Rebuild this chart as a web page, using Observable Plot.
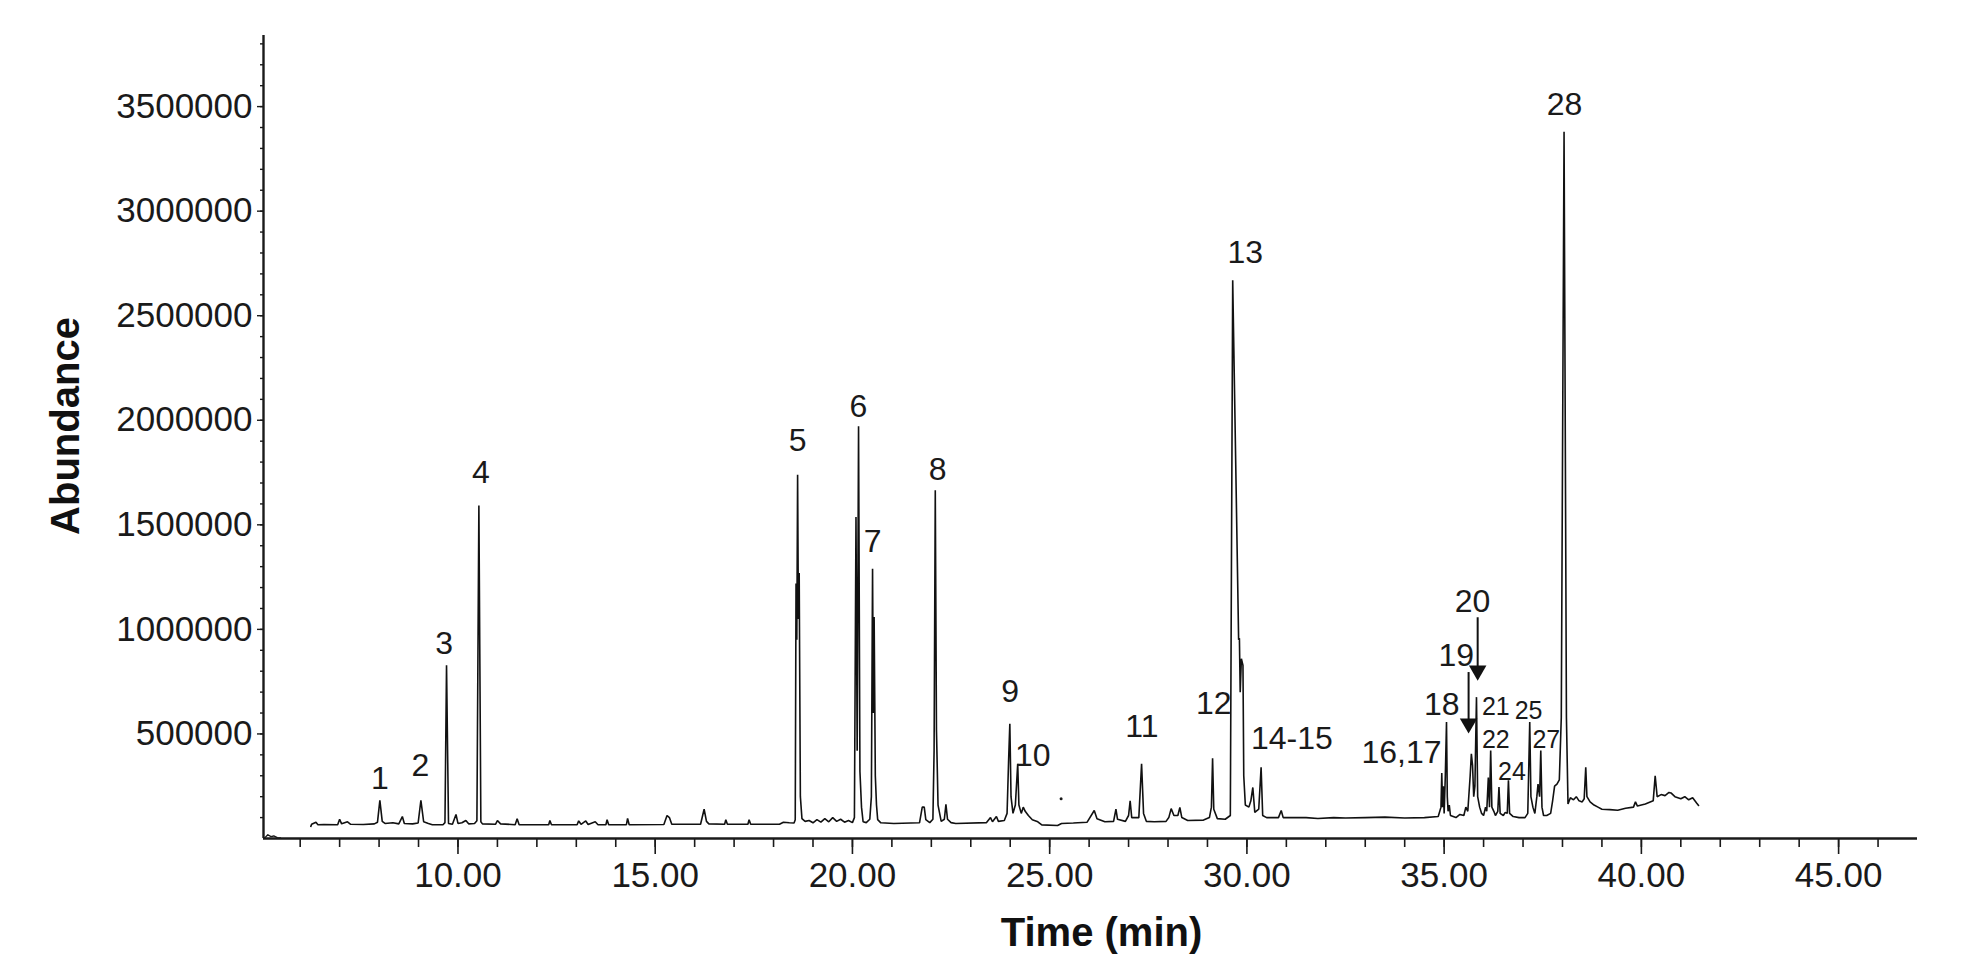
<!DOCTYPE html>
<html><head><meta charset="utf-8">
<script src="https://cdn.jsdelivr.net/npm/d3@7"></script>
<script src="https://cdn.jsdelivr.net/npm/@observablehq/plot@0.6"></script>
<style>body{margin:0;background:#fff}#chart{width:1966px;height:972px}</style>
</head><body><div id="chart"></div>
<script>
// ---- axes ----
const xDomain = [5.07, 47.0];
const yDomain = [0, 3840000];
const xMajorTicks = [10, 15, 20, 25, 30, 35, 40, 45];
const xMinorTicks = [6,7,8,9,10,11,12,13,14,15,16,17,18,19,20,21,22,23,24,25,26,27,28,29,30,31,32,33,34,35,36,37,38,39,40,41,42,43,44,45,46];
const yMajorTicks = [500000, 1000000, 1500000, 2000000, 2500000, 3000000, 3500000];
const yMinorTicks = [100000,200000,300000,400000,500000,600000,700000,800000,900000,1000000,1100000,1200000,1300000,1400000,1500000,1600000,1700000,1800000,1900000,2000000,2100000,2200000,2300000,2400000,2500000,2600000,2700000,2800000,2900000,3000000,3100000,3200000,3300000,3400000,3500000,3600000,3700000,3800000];

// ---- chromatogram trace (time in min, abundance) ----
const traceTime = [6.27,6.29,6.40,6.45,6.60,6.95,7.00,7.05,7.20,7.28,7.60,7.88,7.96,8.02,8.08,8.15,8.35,8.50,8.59,8.64,8.85,8.99,9.06,9.13,9.25,9.35,9.62,9.67,9.71,9.76,9.86,9.95,10.00,10.10,10.20,10.27,10.42,10.48,10.53,10.58,10.62,10.95,11.00,11.08,11.45,11.50,11.55,12.30,12.33,12.37,13.02,13.06,13.12,13.24,13.30,13.48,13.55,13.75,13.78,13.82,14.27,14.30,14.34,15.22,15.30,15.36,15.42,16.15,16.24,16.30,16.36,16.76,16.79,16.83,17.35,17.38,17.42,18.15,18.25,18.40,18.52,18.55,18.57,18.59,18.61,18.63,18.65,18.68,18.72,18.80,18.90,19.00,19.10,19.20,19.30,19.40,19.50,19.60,19.70,19.80,19.90,20.00,20.05,20.09,20.12,20.155,20.19,20.23,20.27,20.35,20.44,20.48,20.51,20.53,20.55,20.58,20.61,20.64,20.72,21.05,21.70,21.77,21.82,21.86,21.96,22.04,22.07,22.10,22.13,22.17,22.25,22.33,22.37,22.41,22.50,22.62,23.40,23.50,23.55,23.65,23.70,23.85,23.92,23.96,23.99,24.02,24.07,24.13,24.19,24.22,24.28,24.33,24.38,24.46,24.56,24.70,24.80,25.20,25.30,25.60,25.95,26.13,26.20,26.40,26.62,26.68,26.72,26.92,27.00,27.04,27.08,27.26,27.33,27.38,27.45,27.65,27.95,28.02,28.08,28.15,28.25,28.30,28.35,28.50,28.90,29.05,29.10,29.13,29.16,29.25,29.45,29.58,29.64,29.79,29.81,29.83,29.86,29.90,29.92,29.96,30.05,30.10,30.15,30.20,30.30,30.36,30.40,30.50,30.80,30.87,30.92,31.50,31.80,32.20,32.50,33.00,33.50,34.00,34.50,34.85,34.92,34.94,34.96,34.98,35.00,35.03,35.06,35.08,35.10,35.13,35.16,35.30,35.40,35.50,35.55,35.60,35.66,35.69,35.72,35.75,35.78,35.82,35.85,35.90,35.95,36.00,36.05,36.08,36.12,36.15,36.18,36.21,36.26,36.30,36.36,36.39,36.42,36.50,36.55,36.60,36.63,36.66,36.75,36.90,37.05,37.12,37.17,37.20,37.25,37.30,37.35,37.38,37.42,37.45,37.48,37.52,37.60,37.70,37.75,37.80,37.86,37.92,37.97,38.04,38.10,38.14,38.20,38.28,38.35,38.42,38.50,38.55,38.59,38.62,38.70,38.80,38.90,39.00,39.20,39.40,39.60,39.80,39.85,39.90,40.10,40.30,40.35,40.40,40.50,40.60,40.70,40.75,40.85,41.00,41.10,41.20,41.30,41.40,41.45];
const traceAbundance = [58000,68000,78000,66000,67000,66000,92000,70000,80000,68000,67000,70000,78000,182000,82000,72000,75000,70000,105000,72000,70000,74000,182000,80000,72000,66000,66000,76000,828000,72000,68000,115000,72000,75000,86000,70000,72000,85000,1593000,80000,70000,68000,86000,70000,66000,94000,66000,66000,86000,66000,66000,84000,68000,84000,67000,80000,66000,66000,90000,66000,66000,96000,66000,67000,110000,100000,68000,68000,140000,82000,70000,68000,90000,68000,68000,90000,68000,68000,78000,75000,74000,90000,1220000,950000,1740000,1050000,1270000,200000,95000,82000,86000,75000,90000,78000,95000,80000,100000,82000,92000,78000,86000,76000,100000,1537000,420000,1971000,320000,150000,80000,76000,92000,200000,1290000,600000,1059000,300000,160000,90000,75000,72000,75000,150000,150000,90000,76000,92000,420000,1665000,520000,160000,82000,92000,163000,92000,76000,72000,76000,100000,80000,105000,82000,86000,120000,380000,549000,200000,120000,160000,357000,160000,120000,150000,130000,110000,90000,80000,65000,62000,72000,74000,78000,134000,95000,80000,82000,140000,92000,82000,110000,180000,100000,100000,357000,120000,82000,80000,82000,100000,143000,110000,110000,149000,100000,86000,88000,100000,150000,384000,140000,95000,92000,110000,2670000,950000,958000,700000,860000,828000,300000,160000,150000,180000,244000,125000,140000,340000,110000,100000,100000,134000,100000,100000,96000,100000,98000,100000,102000,98000,100000,105000,150000,313000,150000,250000,120000,300000,557000,200000,130000,160000,110000,100000,115000,110000,150000,130000,300000,405000,350000,200000,250000,676000,200000,150000,120000,110000,150000,130000,292000,150000,421000,150000,130000,110000,130000,246000,120000,110000,125000,120000,278000,120000,105000,100000,100000,120000,557000,200000,150000,120000,200000,260000,200000,421000,150000,110000,110000,120000,180000,250000,260000,280000,580000,3380000,580000,165000,195000,185000,200000,180000,175000,190000,341000,200000,175000,160000,150000,140000,138000,135000,145000,150000,175000,155000,165000,180000,300000,200000,210000,205000,220000,218000,200000,190000,200000,185000,195000,170000,158000];

// small trace at the origin corner
const cornerTime = [5.10, 5.18, 5.26, 5.33, 5.42, 5.50];
const cornerAbundance = [3000, 18000, 9000, 12000, 4000, 3000];

// isolated dot
const dotTime = [25.29];
const dotAbundance = [190000];

// ---- peak labels ----
const peakLabels = ["1","2","3","4","5","6","7","8","9","10","11","12","13","14-15","16,17","18","19","20","28"];
const peakLabelTime = [8.02,9.05,9.65,10.58,18.61,20.15,20.51,22.16,24.0,24.57,27.34,29.16,29.96,31.14,33.92,34.94,35.31,35.72,38.05];
const peakLabelAbundance = [287000,349000,933000,1750000,1904000,2064000,1420000,1761000,700000,397000,536000,646000,2800000,475000,412000,641000,876000,1131000,3507000];
const smallLabels = ["21","22","24","25","27"];
const smallLabelTime = [36.31,36.31,36.72,37.14,37.59];
const smallLabelAbundance = [628000,469000,317000,608000,472000];

// ---- arrows (peaks 19 and 20) ----
const arrowTime = [35.62, 35.85];
const arrowFrom = [796000, 1058000];
const arrowHead = [550000, 803000];

const trace = traceTime.map((t, i) => ({t, v: traceAbundance[i]}));
const corner = cornerTime.map((t, i) => ({t, v: cornerAbundance[i]}));
const lone = dotTime.map((t, i) => ({t, v: dotAbundance[i]}));
const labels = peakLabels.map((s, i) => ({s, t: peakLabelTime[i], v: peakLabelAbundance[i]}));
const small = smallLabels.map((s, i) => ({s, t: smallLabelTime[i], v: smallLabelAbundance[i]}));
const arrows = arrowTime.map((t, i) => ({t, v1: arrowFrom[i], v2: arrowHead[i]}));

const ink = "#1a1a1a";
const chart = Plot.plot({
  width: 1966, height: 972,
  marginLeft: 263, marginRight: 49, marginTop: 35, marginBottom: 134,
  style: {fontFamily: "'Liberation Sans', Arial, sans-serif", color: ink, background: "#fff"},
  x: {domain: xDomain},
  y: {domain: yDomain},
  marks: [
    Plot.axisX(xMinorTicks, {tickSize: 9, tickFormat: () => "", label: null, strokeWidth: 1.6}),
    Plot.axisX(xMajorTicks, {tickSize: 16, tickPadding: 8, fontSize: 35, tickFormat: d3.format(".2f"), label: null, strokeWidth: 1.6}),
    Plot.axisY(yMinorTicks, {tickSize: 3, tickFormat: () => "", label: null, strokeWidth: 1.4}),
    Plot.axisY(yMajorTicks, {tickSize: 6, tickPadding: 5, fontSize: 35, tickFormat: d3.format("d"), label: null, strokeWidth: 1.4}),
    Plot.ruleX([xDomain[0]], {stroke: ink, strokeWidth: 2.4}),
    Plot.ruleY([yDomain[0]], {stroke: ink, strokeWidth: 2.4}),
    Plot.line(corner, {x: "t", y: "v", stroke: ink, strokeWidth: 1.4}),
    Plot.line(trace, {x: "t", y: "v", stroke: "#111", strokeWidth: 1.6, strokeLinejoin: "miter"}),
    Plot.dot(lone, {x: "t", y: "v", r: 1.5, fill: ink}),
    Plot.link(arrows, {x1: "t", y1: "v1", x2: "t", y2: "v2", stroke: "#111", strokeWidth: 2}),
    Plot.dot(arrows, {x: "t", y: "v2", symbol: "triangle", r: 6.5, fill: "#111", rotate: 180}),
    Plot.text(labels, {x: "t", y: "v", text: "s", fontSize: 32, fill: ink}),
    Plot.text(small, {x: "t", y: "v", text: "s", fontSize: 25, fill: ink}),
    Plot.text(["Abundance"], {frameAnchor: "left", textAnchor: "middle", lineAnchor: "middle", dx: -197, dy: -11, rotate: -90, fontSize: 40, fontWeight: "bold", fill: "#111"}),
    Plot.text(["Time (min)"], {frameAnchor: "bottom", textAnchor: "middle", lineAnchor: "middle", dx: 11, dy: 95, fontSize: 40, fontWeight: "bold", fill: "#111"})
  ]
});
document.getElementById("chart").append(chart);
</script>
</body></html>
